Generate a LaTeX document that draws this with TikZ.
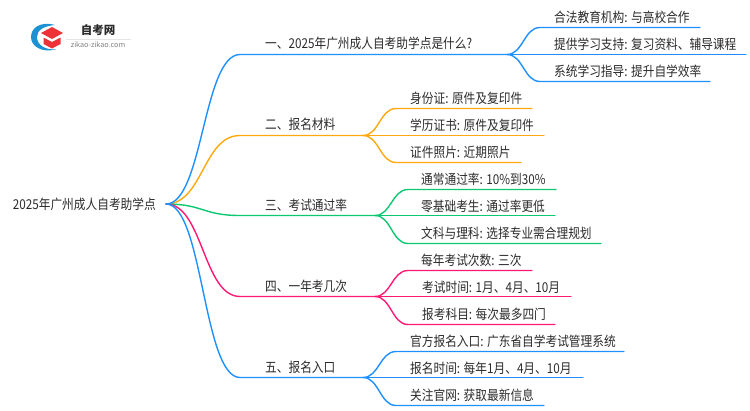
\documentclass[tikz,border=0pt]{standalone}
\usepackage{fontspec}
\setmainfont[FakeStretch=0.86]{Noto Sans CJK SC}
\newfontfamily\logofont{Noto Sans CJK SC}
\definecolor{lineblue}{HTML}{1E90FF}
\definecolor{lineorange}{HTML}{FFA90F}
\definecolor{linegreen}{HTML}{0CC872}
\definecolor{linepink}{HTML}{FF1A75}
\definecolor{inktext}{HTML}{2B2B2B}
\definecolor{logored}{HTML}{EE3338}
\definecolor{logoblue}{HTML}{1C92D2}
\tikzset{
  txt/.style={anchor=west, inner sep=0pt, text=inktext, font=\fontsize{13.6}{14}\selectfont},
  rootnode/.style={txt, anchor=east, inner xsep=10pt},
  branch/.style={line width=1.4pt, line cap=round},
}
\begin{document}
\begin{tikzpicture}[x=1pt,y=-1pt]
        \useasboundingbox (0,0) rectangle (750,410);

        % Logo
        \fill[logoblue] (55,25) .. controls (40,21) and (31,28) .. (31,37) .. controls (31,46) and (41,53) .. (56,49.5) .. controls (45,50) and (37,45) .. (37,37) .. controls (37,30) and (44,26) .. (55,25) -- cycle;
        \fill[logored] (52,27) -- (63,33) -- (52,39) -- (41,33) -- cycle;
        \fill[logored] (43.5,37.5) -- (52,42) -- (60.5,37.5) -- (60.5,44) -- (52,48.5) -- (43.5,44) -- cycle;
        \node[inner sep=0pt, text=inktext, font=\logofont\fontsize{11.5}{12}\selectfont\bfseries] (logoname) at (98,30.5) {自考网};
        \node[inner sep=0pt, text=gray, font=\logofont\fontsize{7.2}{8}\selectfont] (logourl) at (98,45) {zikao-zikao.com};
        \draw[black!10, line width=0.6pt] (66,39) -- (131,39);

        % Define nodes
        \node[rootnode] (root) at (166,204) {2025年广州成人自考助学点};

        \node[txt] (one) at (265,43) {一、2025年广州成人自考助学点是什么?};
        \node[txt] (two) at (265,124) {二、报名材料};
        \node[txt] (three) at (265,205) {三、考试通过率};
        \node[txt] (four) at (265,286) {四、一年考几次};
        \node[txt] (five) at (265,367) {五、报名入口};

        \node[txt] (oneA) at (554,17) {合法教育机构: 与高校合作};
        \node[txt] (oneB) at (554,44) {提供学习支持: 复习资料、辅导课程};
        \node[txt] (oneC) at (554,71) {系统学习指导: 提升自学效率};

        \node[txt] (twoA) at (410,98) {身份证: 原件及复印件};
        \node[txt] (twoB) at (410,125) {学历证书: 原件及复印件};
        \node[txt] (twoC) at (410,152) {证件照片: 近期照片};

        \node[txt] (threeA) at (421,179) {通常通过率: 10\%到30\%};
        \node[txt] (threeB) at (421,206) {零基础考生: 通过率更低};
        \node[txt] (threeC) at (421,233) {文科与理科: 选择专业需合理规划};

        \node[txt] (fourA) at (421,260) {每年考试次数: 三次};
        \node[txt] (fourB) at (422,287) {考试时间: 1月、4月、10月};
        \node[txt] (fourC) at (422,314) {报考科目: 每次最多四门};

        \node[txt] (fiveA) at (410,341) {官方报名入口: 广东省自学考试管理系统};
        \node[txt] (fiveB) at (410,368) {报名时间: 每年1月、4月、10月};
        \node[txt] (fiveC) at (410,395) {关注官网: 获取最新信息};

        % Line ends
        \coordinate (oneS) at (240,54.5);    \coordinate (oneE) at (507,54.5);
        \coordinate (twoS) at (240,135.5);   \coordinate (twoE) at (363,135.5);
        \coordinate (threeS) at (240,215.5); \coordinate (threeE) at (375,215.5);
        \coordinate (fourS) at (240,296.5);  \coordinate (fourE) at (375,296.5);
        \coordinate (fiveS) at (240,377.5);  \coordinate (fiveE) at (363,377.5);

        \coordinate (oneAS) at (540,27.5);   \coordinate (oneAE) at (700,27.5);
        \coordinate (oneCS) at (540,81.5);   \coordinate (oneCE) at (710,81.5);
        \coordinate (oneBE) at (746,54.5);
        \coordinate (twoAS) at (396,108.5);  \coordinate (twoAE) at (532,108.5);
        \coordinate (twoCS) at (396,162.5);  \coordinate (twoCE) at (521,162.5);
        \coordinate (twoBE) at (544,135.5);
        \coordinate (threeAS) at (408,189.5); \coordinate (threeAE) at (556,189.5);
        \coordinate (threeCS) at (408,243.5); \coordinate (threeCE) at (601,243.5);
        \coordinate (threeBE) at (555,215.5);
        \coordinate (fourAS) at (408,270.5); \coordinate (fourAE) at (532,270.5);
        \coordinate (fourCS) at (408,324.5); \coordinate (fourCE) at (555,324.5);
        \coordinate (fourBE) at (571,296.5);
        \coordinate (fiveAS) at (396,351.5); \coordinate (fiveAE) at (624,351.5);
        \coordinate (fiveCS) at (396,405.5); \coordinate (fiveCE) at (544,405.5);
        \coordinate (fiveBE) at (583,377.5);

        % Draw branches
        \draw[branch, lineorange] (root.east) .. controls +(37,0) and +(-37,0) .. (twoS) -- (twoE);
        \draw[branch, lineorange] (twoE) .. controls +(16,0) and +(-16,0) .. (twoAS) -- (twoAE);
        \draw[branch, lineorange] (twoE) -- (twoBE);
        \draw[branch, lineorange] (twoE) .. controls +(16,0) and +(-16,0) .. (twoCS) -- (twoCE);

        \draw[branch, linegreen] (root.east) .. controls +(37,0) and +(-37,0) .. (threeS) -- (threeE);
        \draw[branch, linegreen] (threeE) .. controls +(16,0) and +(-16,0) .. (threeAS) -- (threeAE);
        \draw[branch, linegreen] (threeE) -- (threeBE);
        \draw[branch, linegreen] (threeE) .. controls +(16,0) and +(-16,0) .. (threeCS) -- (threeCE);

        \draw[branch, linepink] (root.east) .. controls +(37,0) and +(-37,0) .. (fourS) -- (fourE);
        \draw[branch, linepink] (fourE) .. controls +(16,0) and +(-16,0) .. (fourAS) -- (fourAE);
        \draw[branch, linepink] (fourE) -- (fourBE);
        \draw[branch, linepink] (fourE) .. controls +(16,0) and +(-16,0) .. (fourCS) -- (fourCE);

        \draw[branch, lineblue] (root.east) .. controls +(37,0) and +(-37,0) .. (oneS) -- (oneE);
        \draw[branch, lineblue] (oneE) .. controls +(16,0) and +(-16,0) .. (oneAS) -- (oneAE);
        \draw[branch, lineblue] (oneE) -- (oneBE);
        \draw[branch, lineblue] (oneE) .. controls +(16,0) and +(-16,0) .. (oneCS) -- (oneCE);

        \draw[branch, lineblue] (root.east) .. controls +(37,0) and +(-37,0) .. (fiveS) -- (fiveE);
        \draw[branch, lineblue] (fiveE) .. controls +(16,0) and +(-16,0) .. (fiveAS) -- (fiveAE);
        \draw[branch, lineblue] (fiveE) -- (fiveBE);
        \draw[branch, lineblue] (fiveE) .. controls +(16,0) and +(-16,0) .. (fiveCS) -- (fiveCE);
    \end{tikzpicture}
\end{document}
